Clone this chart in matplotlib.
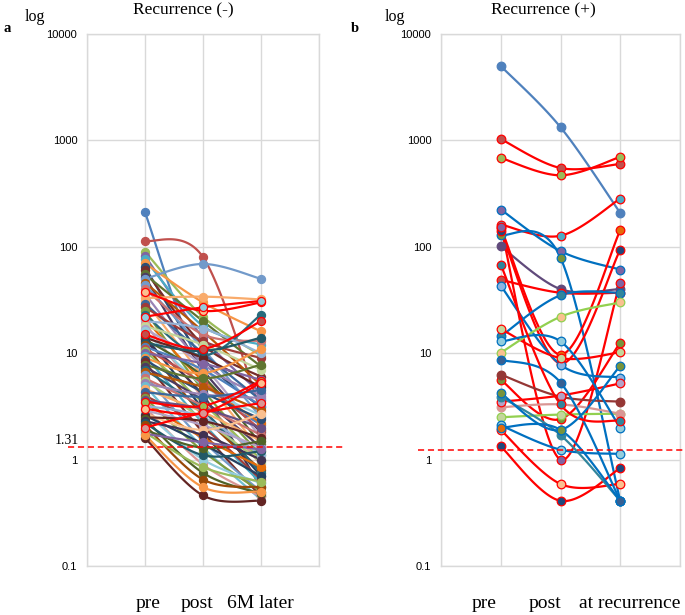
import numpy as np
import matplotlib
matplotlib.use('Agg')
import matplotlib.pyplot as plt
import matplotlib.transforms as mtransforms

# Excel 2010 default series palette (base, darker, lighter, ...)
excel_colors = ['#4F81BD', '#C0504D', '#9BBB59', '#8064A2', '#4BACC6', '#F79646',
                '#2C4D75', '#772C2A', '#5F7530', '#4D3B62', '#276A7C', '#B65708',
                '#729ACA', '#CD7371', '#AFC97A', '#9983B5', '#6FBDD1', '#F9AB6B',
                '#3A679C', '#9F3B38', '#7E9D40', '#664F83', '#359AB5', '#E46C0A',
                '#95B3D7', '#D99694', '#C3D69B', '#B3A2C7', '#93CDDD', '#FAC090',
                '#254061', '#632523', '#4F6228', '#403152', '#215968', '#984807']

# ---- panel a : Recurrence (-) ----
labels_neg = ['pre', 'post', '6M later']
pre_neg = [211, 114, 90, 82, 76, 70, 64, 60, 55, 52, 50, 46, 44, 40, 38, 36, 33, 31, 29, 27,
           25, 23, 22, 21, 20, 19, 18, 17, 16, 15, 14.5, 14, 13.5, 13, 12.5, 12, 11.5, 11, 10.5, 10,
           9.5, 9, 8.6, 8.2, 7.8, 7.4, 7, 6.6, 6.2, 5.8, 5.5, 5.2, 4.9, 4.6, 4.3, 4.0, 3.8, 3.6, 3.5, 3.4,
           3.2, 3.1, 3.0, 2.9, 2.8, 2.7, 2.6, 2.5, 2.4, 2.3, 2.2, 2.1, 2.0, 1.9, 1.8, 1.75, 1.6, 1.7]
post_neg = [6.5, 80, 22, 14, 18, 30, 9, 12, 20, 7, 69, 16, 11, 15, 25, 8, 34, 6, 10, 13,
            4.5, 9.5, 27, 5.5, 17, 3.8, 12, 7.5, 5, 11, 3, 9, 6, 4, 10.5, 2.6, 7, 5.2, 3.4, 8,
            2.2, 6.5, 4.3, 1.8, 5.8, 3.6, 2.9, 4.8, 1.5, 3.2, 2.4, 4.1, 1.3, 2.8, 3.9, 2.0, 1.2, 3.0, 3.2, 1.6,
            2.5, 0.9, 2.75, 2.1, 1.0, 1.9, 1.4, 2.3, 0.75, 1.7, 1.1, 0.65, 2.75, 1.29, 0.85, 1.45, 0.46, 0.55]
later_neg = [2.1, 2.8, 9.5, 4.2, 12, 16, 3.1, 6, 7.5, 1.8, 50, 5, 2.5, 13, 30, 4, 32, 1.2, 3.6, 9,
             1.1, 23, 31, 2.2, 10, 0.9, 7, 1.6, 2.6, 20, 0.7, 4.8, 1.4, 0.55, 14, 0.8, 3.2, 1.9, 1.0, 5.6,
             0.6, 11, 2.4, 0.45, 7.8, 1.3, 0.75, 2.9, 0.5, 1.7, 0.95, 3.8, 0.42, 1.5, 4.5, 0.65, 0.5, 2.0, 5.5, 0.85,
             1.1, 0.45, 5.3, 1.3, 0.6, 2.7, 0.7, 1.6, 0.48, 1.0, 1.2, 0.55, 3.4, 1.49, 0.62, 1.25, 0.41, 0.5]
# series drawn in pure red (highlighted), with their marker fill
red_neg = {14: '#FAC090', 22: '#93CDDD', 29: '#C0504D', 58: '#9BBB59', 62: '#FAC090', 72: '#D99694'}
special_neg = {10: '#729ACA', 16: '#F9AB6B', 21: '#276A7C', 73: '#4F6228', 76: '#632523'}

# ---- panel b : Recurrence (+) ----
labels_pos = ['pre', 'post', 'at recurrence']
pre_pos = [5000, 1030, 685, 162, 224, 130, 101, 150, 140, 155, 5.6, 49, 43, 14.4, 16.9,
           10.1, 2.5, 3.1, 6.3, 3.5, 1.33, 1.9, 12.9, 2.1, 3.9, 2.0, 8.7, 68, 4.2]
post_pos = [1330, 550, 470, 127, 91, 79, 40, 9.7, 8.0, 1.0, 2.4, 37, 7.8, 35, 9.0,
            22, 2.65, 3.3, 3.9, 4.0, 0.41, 0.59, 12.9, 1.24, 1.7, 1.9, 5.3, 3.3, 1.9]
rec_pos = [208, 600, 700, 284, 61, 0.41, 40, 143, 94, 46, 12.5, 37, 5.9, 37, 10.2,
           30, 2.7, 2.7, 3.5, 5.2, 0.83, 0.59, 2.0, 1.13, 0.41, 0.41, 0.41, 2.3, 7.6]
line_pos = ['#4F81BD', 'red', 'red', 'red', '#0070C0', '#0070C0', '#604A7B', 'red', 'red', 'red',
            'red', 'red', '#0070C0', '#0070C0', 'red', '#92D050', '#92D050', '#D99694', '#953735', 'red',
            'red', 'red', '#0070C0', '#0070C0', '#31859C', '#0070C0', '#0070C0', 'red', '#0070C0']
fill_pos = ['#4F81BD', '#C0504D', '#9BBB59', '#4BACC6', '#8064A2', '#77933C', '#604A7B', '#E46C0A',
            '#1F497D', '#8064A2', '#77933C', '#C0504D', '#8DB3E2', '#31859C', '#C3D69B', '#FAC090',
            '#C3D69B', '#D99694', '#953735', '#B3A2C7', '#1F497D', '#FAC090', '#93CDDD', '#93CDDD',
            '#31859C', '#E46C0A', '#376092', '#31859C', '#77933C']


def excel_smooth(xs, ys, n=40):
    """Excel-style smoothed line (Catmull-Rom Bezier) in log space."""
    pts = np.column_stack([xs, np.log10(ys)])
    ext = np.vstack([pts[0], pts, pts[-1]])
    t = np.linspace(0, 1, n)[:, None]
    segs = []
    for i in range(len(pts) - 1):
        p0, p1 = ext[i + 1], ext[i + 2]
        c1 = p0 + (ext[i + 2] - ext[i]) / 6
        c2 = p1 - (ext[i + 3] - ext[i + 1]) / 6
        segs.append((1 - t) ** 3 * p0 + 3 * (1 - t) ** 2 * t * c1
                    + 3 * (1 - t) * t ** 2 * c2 + t ** 3 * p1)
    s = np.vstack(segs)
    return s[:, 0], 10 ** s[:, 1]


def draw_series(ax, vals, line_c, fill_c, edge_c, z, ms=5.8):
    xs = np.array([1, 2, 3])
    sx, sy = excel_smooth(xs, vals)
    ax.plot(sx, sy, color=line_c, lw=1.6, zorder=z, solid_capstyle='round')
    ax.plot(xs, vals, 'o', ms=ms, mfc=fill_c, mec=edge_c, mew=0.9, zorder=z + 0.5, ls='none')


def setup_axes(ax):
    ax.set_yscale('log')
    ax.set_ylim(0.1, 10000)
    ax.set_xlim(0, 4)
    ax.set_xticks([0, 1, 2, 3, 4])
    ax.set_xticklabels([])
    ax.set_yticks([0.1, 1, 10, 100, 1000, 10000])
    ax.set_yticklabels(['0.1', '1', '10', '100', '1000', '10000'],
                       fontfamily='Liberation Sans', fontsize=8)
    ax.minorticks_off()
    ax.tick_params(length=0, pad=7)
    ax.grid(True, color='#D9D9D9', lw=1.0, zorder=0)
    for s in ax.spines.values():
        s.set_color('#D9D9D9')
        s.set_linewidth(1.0)
    ax.set_axisbelow(True)


fig = plt.figure(figsize=(6.85, 6.15), dpi=100)
ax1 = fig.add_axes([87 / 685, 49 / 615, 232 / 685, 532 / 615])
ax2 = fig.add_axes([441 / 685, 49 / 615, 239 / 685, 532 / 615])
setup_axes(ax1)
setup_axes(ax2)

for i in range(len(pre_neg)):
    vals = [pre_neg[i], post_neg[i], later_neg[i]]
    if i in red_neg:
        draw_series(ax1, vals, '#FF0000', red_neg[i], '#FF0000', 5)
    else:
        c = special_neg.get(i, excel_colors[i % len(excel_colors)])
        draw_series(ax1, vals, c, c, c, 2 + i * 0.01)

for i in range(len(pre_pos)):
    vals = [pre_pos[i], post_pos[i], rec_pos[i]]
    lc = '#FF0000' if line_pos[i] == 'red' else line_pos[i]
    draw_series(ax2, vals, lc, fill_pos[i], lc, 2 + i * 0.01, ms=6.2)

# cut-off lines
tr1 = mtransforms.blended_transform_factory(ax1.transAxes, ax1.transData)
ax1.plot([-0.082, 1.11], [1.31, 1.31], color='#FF0000', ls=(0, (4, 2.5)), lw=1.1,
         transform=tr1, clip_on=False, zorder=6)
tr2 = mtransforms.blended_transform_factory(ax2.transAxes, ax2.transData)
ax2.plot([-0.096, 1.02], [1.22, 1.22], color='#FF0000', ls=(0, (4, 2.5)), lw=1.1,
         transform=tr2, clip_on=False, zorder=6)

serif = 'Liberation Serif'
fig.text(55 / 685, 1 - 441 / 615, '1.31', fontfamily=serif, fontsize=10, va='center')

# titles, panel letters, axis words
fig.text(183 / 685, 1 - 10 / 615, 'Recurrence (-)', fontfamily=serif, fontsize=12.5,
         ha='center', va='center')
fig.text(543 / 685, 1 - 10 / 615, 'Recurrence (+)', fontfamily=serif, fontsize=12.5,
         ha='center', va='center')
fig.text(3 / 685, 1 - 28 / 615, 'a', fontfamily=serif, fontsize=10.5, fontweight='bold',
         va='center')
fig.text(351 / 685, 1 - 28 / 615, 'b', fontfamily=serif, fontsize=10.5, fontweight='bold',
         va='center')
fig.text(25 / 685, 1 - 17 / 615, 'log', fontfamily=serif, fontsize=11.5, va='center')
fig.text(385 / 685, 1 - 17 / 615, 'log', fontfamily=serif, fontsize=11.5, va='center')

for lab, x in zip(labels_neg, [148, 197, 260]):
    fig.text(x / 685, 1 - 603 / 615, lab, fontfamily=serif, fontsize=14, ha='center', va='center')
for lab, x in zip(labels_pos, [484, 545, 630]):
    fig.text(x / 685, 1 - 603 / 615, lab, fontfamily=serif, fontsize=14, ha='center', va='center')

fig.savefig('out.png', dpi=100)
